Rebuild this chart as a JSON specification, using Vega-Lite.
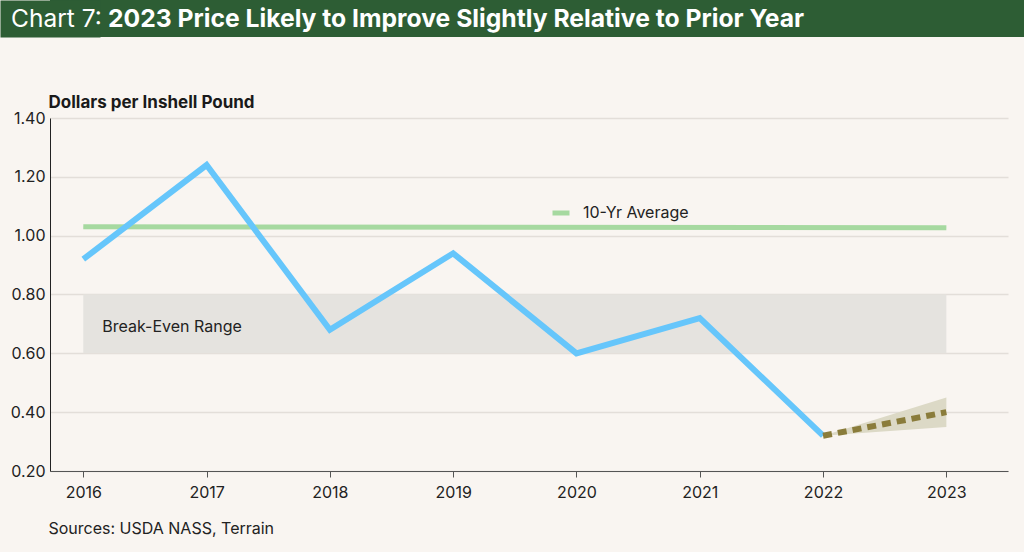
{
  "$schema": "https://vega.github.io/schema/vega-lite/v6.json",
  "background": "#f9f5f1",
  "padding": {"left": 0, "top": 0, "right": 0, "bottom": 22},
  "spacing": 56,
  "columns": 1,
  "config": {"view": {"stroke": null}, "font": "Inter"},
  "concat": [
    {
      "width": 974,
      "height": 37,
      "view": {"fill": "#2d5d34", "stroke": null},
      "data": {"values": [{"a": "Chart 7:", "b": "2023 Price Likely to Improve Slightly Relative to Prior Year", "mid": 0.5}]},
      "encoding": {
        "y": {
          "field": "mid",
          "type": "quantitative",
          "scale": {"domain": [0, 1]},
          "axis": {
            "title": null,
            "labels": false,
            "ticks": false,
            "grid": false,
            "domain": true,
            "domainColor": "#2d5d34",
            "domainWidth": 100,
            "domainCap": "butt",
            "minExtent": 50,
            "maxExtent": 50
          }
        },
        "text": {"field": "a"}
      },
      "layer": [
        {
          "mark": {"type": "text", "align": "left", "baseline": "middle", "dx": -526, "dy": 1, "color": "#ffffff", "fontSize": 24.5, "fontWeight": "normal", "font": "Inter"}
        },
        {
          "mark": {"type": "text", "align": "left", "baseline": "middle", "dx": -429, "dy": 1, "color": "#ffffff", "fontSize": 24.7, "fontWeight": "bold", "font": "Inter"},
          "encoding": {"text": {"field": "b"}}
        }
      ]
    },
    {
      "width": 958,
      "height": 353,
      "encoding": {
        "x": {
          "type": "quantitative",
          "scale": {"domain": [2015.73, 2023.5], "nice": false, "zero": false},
          "axis": {
            "values": [2016, 2017, 2018, 2019, 2020, 2021, 2022, 2023],
            "format": "d",
            "grid": false,
            "domainColor": "#555555",
            "tickColor": "#555555",
            "tickSize": 6,
            "labelPadding": 7,
            "labelFontSize": 16,
            "labelColor": "#222222",
            "title": "Sources: USDA NASS, Terrain",
            "titleFontSize": 16,
            "titleFontWeight": "normal",
            "titleColor": "#222222",
            "titleAnchor": "start",
            "titleAlign": "left",
            "titleBaseline": "alphabetic",
            "titleX": -2,
            "titleY": 62
          }
        },
        "y": {
          "type": "quantitative",
          "scale": {"domain": [0.2, 1.4], "nice": false, "zero": false},
          "axis": {
            "values": [0.2, 0.4, 0.6, 0.8, 1.0, 1.2, 1.4],
            "format": ".2f",
            "grid": true,
            "gridColor": "#e3ded9",
            "gridWidth": 1.5,
            "domainColor": "#222222",
            "ticks": false,
            "labelPadding": 5,
            "labelFontSize": 16,
            "labelColor": "#222222",
            "minExtent": 50,
            "title": "Dollars per Inshell Pound",
            "titleAngle": 0,
            "titleFontSize": 17,
            "titleFontWeight": "bold",
            "titleColor": "#1a1a1a",
            "titleAlign": "left",
            "titleBaseline": "alphabetic",
            "titleX": -2,
            "titleY": -11
          }
        }
      },
      "layer": [
        {
          "data": {"values": [{"start": 2016, "end": 2023, "low": 0.6, "high": 0.8}]},
          "mark": {"type": "rect", "color": "#e5e3df"},
          "encoding": {
            "x": {"field": "start", "type": "quantitative"},
            "x2": {"field": "end"},
            "y": {"field": "low", "type": "quantitative"},
            "y2": {"field": "high"}
          }
        },
        {
          "data": {"values": [{"year": 2016, "label": "Break-Even Range", "value": 0.7}]},
          "mark": {"type": "text", "align": "left", "baseline": "middle", "dx": 19, "dy": 3, "fontSize": 16, "color": "#222222"},
          "encoding": {
            "x": {"field": "year", "type": "quantitative"},
            "y": {"field": "value", "type": "quantitative"},
            "text": {"field": "label"}
          }
        },
        {
          "data": {"values": [{"year": 2022, "low": 0.32, "high": 0.32}, {"year": 2023, "low": 0.35, "high": 0.45}]},
          "mark": {"type": "area", "color": "#dcd9c6"},
          "encoding": {
            "x": {"field": "year", "type": "quantitative"},
            "y": {"field": "low", "type": "quantitative"},
            "y2": {"field": "high"}
          }
        },
        {
          "data": {"values": [{"year": 2016, "value": 1.03, "series": "10-Yr Average"}, {"year": 2023, "value": 1.027, "series": "10-Yr Average"}]},
          "mark": {"type": "line", "strokeWidth": 5, "strokeCap": "butt"},
          "encoding": {
            "x": {"field": "year", "type": "quantitative"},
            "y": {"field": "value", "type": "quantitative"},
            "color": {
              "field": "series",
              "type": "nominal",
              "scale": {"domain": ["10-Yr Average"], "range": ["#a6d9a0"]},
              "legend": {
                "orient": "none",
                "legendX": 500,
                "legendY": 202,
                "title": null,
                "padding": 0,
                "symbolType": "stroke",
                "symbolStrokeWidth": 5,
                "symbolSize": 289,
                "labelFontSize": 16,
                "labelColor": "#222222",
                "labelOffset": 11
              }
            }
          }
        },
        {
          "data": {"values": [
            {"year": 2016, "value": 0.92},
            {"year": 2017, "value": 1.24},
            {"year": 2018, "value": 0.68},
            {"year": 2019, "value": 0.94},
            {"year": 2020, "value": 0.60},
            {"year": 2021, "value": 0.72},
            {"year": 2022, "value": 0.32}
          ]},
          "mark": {"type": "line", "color": "#66c6fb", "strokeWidth": 6, "strokeCap": "butt", "strokeJoin": "miter"},
          "encoding": {
            "x": {"field": "year", "type": "quantitative"},
            "y": {"field": "value", "type": "quantitative"}
          }
        },
        {
          "data": {"values": [{"year": 2022, "value": 0.32}, {"year": 2023, "value": 0.40}]},
          "mark": {"type": "line", "color": "#8a7c3b", "strokeWidth": 6, "strokeDash": [9, 6], "strokeCap": "butt"},
          "encoding": {
            "x": {"field": "year", "type": "quantitative"},
            "y": {"field": "value", "type": "quantitative"}
          }
        }
      ]
    }
  ]
}
